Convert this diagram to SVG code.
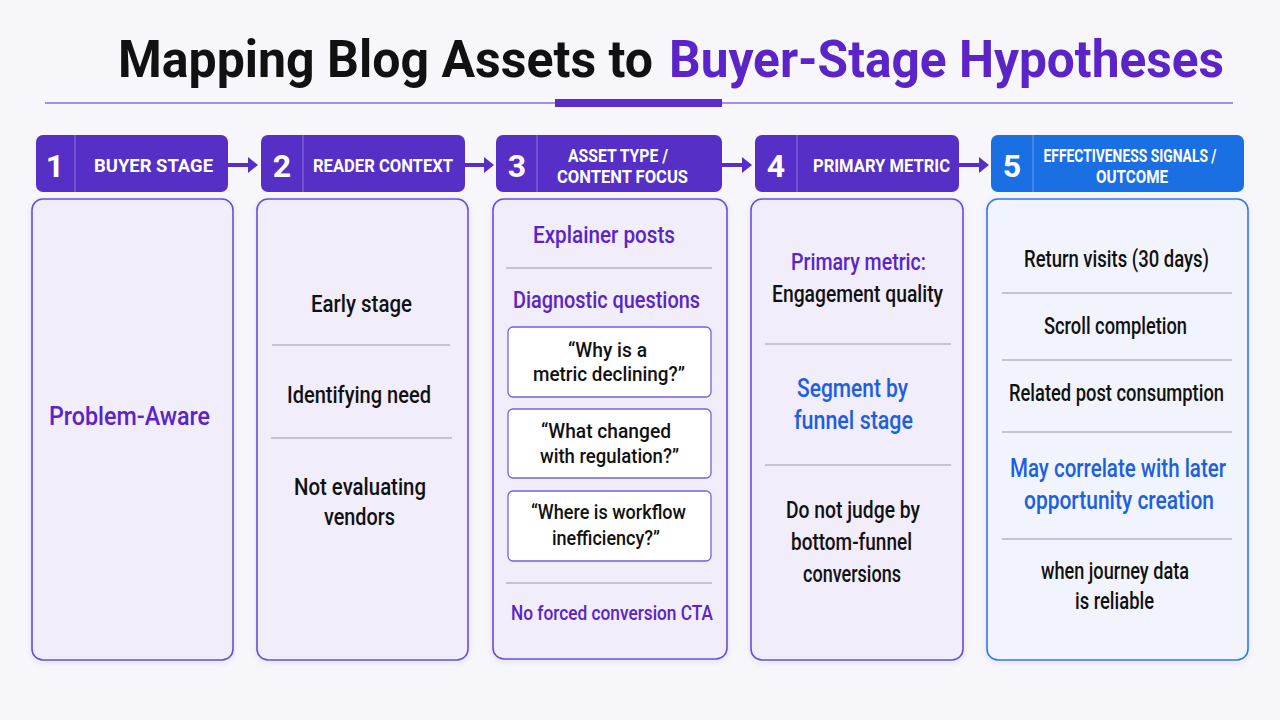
<svg xmlns="http://www.w3.org/2000/svg" width="1280" height="720" viewBox="0 0 1280 720">
<defs>
<style>
.t{font-family:Roboto,"Liberation Sans",sans-serif;}
.title{font-size:52px;font-weight:700;}
.hd{font-size:19px;font-weight:700;fill:#ffffff;text-anchor:middle;}
.num{font-size:32px;font-weight:700;fill:#ffffff;text-anchor:middle;}
.b{font-size:23px;font-weight:500;fill:#111111;text-anchor:middle;}
.pu{fill:#5a24c8;}
.bl{fill:#1d5fe0;}
.panel{fill:#f1edfb;stroke:#6a4ddc;stroke-width:1.6;}
.panel5{fill:#f1f4fc;stroke:#2f7ae5;stroke-width:1.6;}
.hbox{fill:#5630c6;}
.hbox5{fill:#1a6fe3;}
.sep{stroke:#ffffff;stroke-opacity:0.35;stroke-width:1;}
.div{stroke:#b5b5c2;stroke-width:1.5;}
.qbox{fill:#ffffff;stroke:#7a5fe0;stroke-width:1.3;}
.arrow{fill:#5630c6;}
</style>
<filter id="sh" x="-10%" y="-10%" width="120%" height="120%">
<feDropShadow dx="0" dy="2" stdDeviation="3" flood-color="#5030a0" flood-opacity="0.10"/>
</filter>
</defs>
<rect width="1280" height="720" fill="#f7f7fb"/>

<g id="title">
<text class="t title" x="118" y="77" fill="#111111" textLength="535" lengthAdjust="spacingAndGlyphs">Mapping Blog Assets to</text>
<text class="t title" x="669" y="77" fill="#5a24c8" textLength="555" lengthAdjust="spacingAndGlyphs">Buyer-Stage Hypotheses</text>
<line x1="45" y1="103" x2="1233" y2="103" stroke="#8a6ee0" stroke-width="1.5"/>
<rect x="555" y="99" width="167" height="8" fill="#5630c6"/>
</g>

<g id="connectors">
<path class="arrow" d="M228,163 H248 V157 L258,165 L248,173 V167 H228 Z"/>
<path class="arrow" d="M465,163 H484 V157 L494,165 L484,173 V167 H465 Z"/>
<path class="arrow" d="M722,163 H742 V157 L752,165 L742,173 V167 H722 Z"/>
<path class="arrow" d="M959,163 H979 V157 L989,165 L979,173 V167 H959 Z"/>
</g>

<g id="header1">
<rect class="hbox" x="36" y="135" width="192" height="57" rx="7"/>
<line class="sep" x1="75" y1="135" x2="75" y2="192"/>
<text class="t num" x="55" y="177">1</text>
<text class="t hd" x="153.5" y="172" textLength="119" lengthAdjust="spacingAndGlyphs">BUYER STAGE</text>
</g>
<g id="header2">
<rect class="hbox" x="261" y="135" width="204" height="57" rx="7"/>
<line class="sep" x1="303" y1="135" x2="303" y2="192"/>
<text class="t num" x="282" y="177">2</text>
<text class="t hd" x="383" y="172" textLength="140" lengthAdjust="spacingAndGlyphs">READER CONTEXT</text>
</g>
<g id="header3">
<rect class="hbox" x="496" y="135" width="226" height="57" rx="7"/>
<line class="sep" x1="537" y1="135" x2="537" y2="192"/>
<text class="t num" x="517" y="177">3</text>
<text class="t hd" x="618" y="162" textLength="100" lengthAdjust="spacingAndGlyphs">ASSET TYPE /</text>
<text class="t hd" x="622.5" y="183" textLength="131" lengthAdjust="spacingAndGlyphs">CONTENT FOCUS</text>
</g>
<g id="header4">
<rect class="hbox" x="755" y="135" width="204" height="57" rx="7"/>
<line class="sep" x1="797" y1="135" x2="797" y2="192"/>
<text class="t num" x="776" y="177">4</text>
<text class="t hd" x="881.5" y="172" textLength="137" lengthAdjust="spacingAndGlyphs">PRIMARY METRIC</text>
</g>
<g id="header5">
<rect class="hbox5" x="991" y="135" width="253" height="57" rx="7"/>
<line class="sep" x1="1033" y1="135" x2="1033" y2="192"/>
<text class="t num" x="1012" y="177">5</text>
<text class="t hd" x="1130" y="162" textLength="173" lengthAdjust="spacingAndGlyphs">EFFECTIVENESS SIGNALS /</text>
<text class="t hd" x="1132" y="183" textLength="72" lengthAdjust="spacingAndGlyphs">OUTCOME</text>
</g>

<g id="panel1">
<rect class="panel" x="32" y="199" width="201" height="461" rx="11" filter="url(#sh)"/>
<text class="t b pu" x="129.5" y="425" style="font-size:26px" textLength="161" lengthAdjust="spacingAndGlyphs">Problem-Aware</text>
</g>

<g id="panel2">
<rect class="panel" x="257" y="199" width="211" height="461" rx="11" filter="url(#sh)"/>
<text class="t b" x="361.5" y="312" textLength="101" lengthAdjust="spacingAndGlyphs">Early stage</text>
<line class="div" x1="272" y1="345" x2="450" y2="345"/>
<text class="t b" x="359" y="403" textLength="144" lengthAdjust="spacingAndGlyphs">Identifying need</text>
<line class="div" x1="271" y1="438" x2="452" y2="438"/>
<text class="t b" x="360" y="495" textLength="132" lengthAdjust="spacingAndGlyphs">Not evaluating</text>
<text class="t b" x="359.5" y="525" textLength="71" lengthAdjust="spacingAndGlyphs">vendors</text>
</g>

<g id="panel3">
<rect class="panel" x="493" y="199" width="234" height="460" rx="11" filter="url(#sh)"/>
<text class="t b pu" x="604" y="243" textLength="142" lengthAdjust="spacingAndGlyphs">Explainer posts</text>
<line class="div" x1="506" y1="268" x2="712" y2="268"/>
<text class="t b pu" x="606.5" y="308" textLength="187" lengthAdjust="spacingAndGlyphs">Diagnostic questions</text>
<g id="q1">
<rect class="qbox" x="508" y="327" width="203" height="70" rx="5"/>
<text class="t b" x="607.5" y="357" style="font-size:21px" textLength="79" lengthAdjust="spacingAndGlyphs">“Why is a</text>
<text class="t b" x="609" y="381" style="font-size:21px" textLength="152" lengthAdjust="spacingAndGlyphs">metric declining?”</text>
</g>
<g id="q2">
<rect class="qbox" x="508" y="409" width="203" height="69" rx="5"/>
<text class="t b" x="606" y="438" style="font-size:21px" textLength="130" lengthAdjust="spacingAndGlyphs">“What changed</text>
<text class="t b" x="609.5" y="463" style="font-size:21px" textLength="139" lengthAdjust="spacingAndGlyphs">with regulation?”</text>
</g>
<g id="q3">
<rect class="qbox" x="508" y="491" width="203" height="70" rx="5"/>
<text class="t b" x="608.5" y="519" style="font-size:21px" textLength="155" lengthAdjust="spacingAndGlyphs">“Where is workflow</text>
<text class="t b" x="606" y="545" style="font-size:21px" textLength="108" lengthAdjust="spacingAndGlyphs">inefficiency?”</text>
</g>
<line class="div" x1="506" y1="583" x2="712" y2="583"/>
<text class="t b pu" x="612" y="620" style="font-size:21px" textLength="202" lengthAdjust="spacingAndGlyphs">No forced conversion CTA</text>
</g>

<g id="panel4">
<rect class="panel" x="751" y="199" width="212" height="461" rx="11" filter="url(#sh)"/>
<text class="t b pu" x="858.5" y="270" textLength="135" lengthAdjust="spacingAndGlyphs">Primary metric:</text>
<text class="t b" x="857.5" y="302" textLength="171" lengthAdjust="spacingAndGlyphs">Engagement quality</text>
<line class="div" x1="765" y1="344" x2="951" y2="344"/>
<text class="t b bl" x="852.5" y="397" style="font-size:25px" textLength="111" lengthAdjust="spacingAndGlyphs">Segment by</text>
<text class="t b bl" x="853.5" y="429" style="font-size:25px" textLength="119" lengthAdjust="spacingAndGlyphs">funnel stage</text>
<line class="div" x1="765" y1="465" x2="951" y2="465"/>
<text class="t b" x="853" y="518" textLength="134" lengthAdjust="spacingAndGlyphs">Do not judge by</text>
<text class="t b" x="851.5" y="550" textLength="121" lengthAdjust="spacingAndGlyphs">bottom-funnel</text>
<text class="t b" x="852" y="582" textLength="98" lengthAdjust="spacingAndGlyphs">conversions</text>
</g>

<g id="panel5">
<rect class="panel5" x="987" y="199" width="261" height="461" rx="11" filter="url(#sh)"/>
<text class="t b" x="1116.5" y="267" textLength="185" lengthAdjust="spacingAndGlyphs">Return visits (30 days)</text>
<line class="div" x1="1002" y1="293" x2="1232" y2="293"/>
<text class="t b" x="1115.5" y="334" textLength="143" lengthAdjust="spacingAndGlyphs">Scroll completion</text>
<line class="div" x1="1002" y1="360" x2="1232" y2="360"/>
<text class="t b" x="1116.5" y="401" textLength="215" lengthAdjust="spacingAndGlyphs">Related post consumption</text>
<line class="div" x1="1002" y1="432" x2="1232" y2="432"/>
<text class="t b bl" x="1118" y="477" style="font-size:25px" textLength="216" lengthAdjust="spacingAndGlyphs">May correlate with later</text>
<text class="t b bl" x="1119" y="509" style="font-size:25px" textLength="190" lengthAdjust="spacingAndGlyphs">opportunity creation</text>
<line class="div" x1="1002" y1="539" x2="1232" y2="539"/>
<text class="t b" x="1115" y="579" textLength="148" lengthAdjust="spacingAndGlyphs">when journey data</text>
<text class="t b" x="1114.5" y="609" textLength="79" lengthAdjust="spacingAndGlyphs">is reliable</text>
</g>
</svg>
